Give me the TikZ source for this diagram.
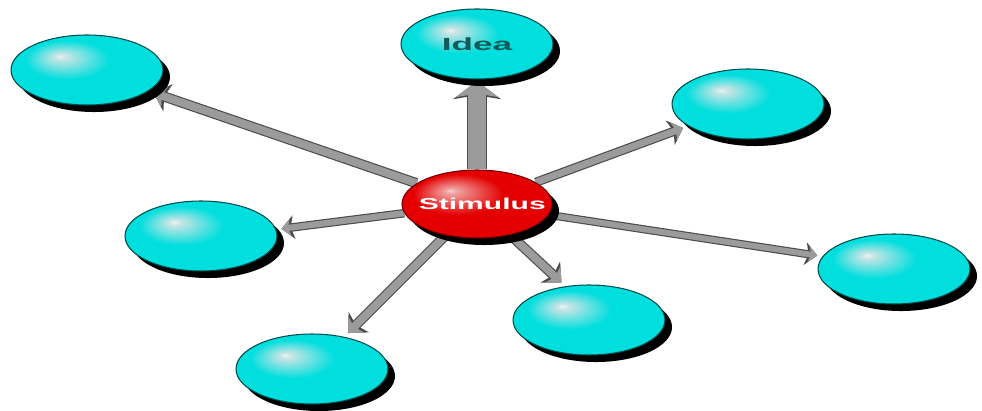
\documentclass[tikz,border=0pt]{standalone}
\usepackage{fontspec}
\setmainfont{Liberation Sans}
\usepackage{graphicx}
\usetikzlibrary{calc}
\usetikzlibrary{shapes}
\usetikzlibrary{shadows}
\usetikzlibrary{arrows.meta}
\definecolor{cellBody}{RGB}{0, 222, 222}
\definecolor{cellGlow}{RGB}{200, 228, 228}
\definecolor{hubBody}{RGB}{228, 0, 0}
\definecolor{hubGlow}{RGB}{240, 160, 160}
\definecolor{hubDark}{RGB}{170, 0, 0}
\pgfdeclareradialshading{cellglow}{\pgfpoint{-9bp}{10bp}}{%
  color(0bp)=(white!60!cellGlow); color(2bp)=(cellGlow);
  color(14bp)=(cellBody); color(50bp)=(cellBody)}
\pgfdeclareradialshading{hubglow}{\pgfpoint{-9bp}{10bp}}{%
  color(0bp)=(white!50!hubGlow); color(2bp)=(hubGlow);
  color(15bp)=(hubBody); color(38bp)=(hubBody); color(50bp)=(hubDark)}
\pgfdeclarelayer{background}
\pgfsetlayers{background,main}

\begin{document}
\begin{tikzpicture}[x=0.02cm, y=-0.02cm]
    \definecolor{cellline}{RGB}{0, 75, 75}
    \definecolor{hubline}{RGB}{110, 0, 0}
    \definecolor{spokeedge}{RGB}{75, 75, 75}
    \definecolor{spokefill}{RGB}{155, 155, 155}
    \definecolor{ideatext}{RGB}{20, 90, 90}

    \tikzstyle{cell}=[ellipse, draw=cellline, line width=0.6pt, shade, shading=cellglow, minimum width=3.04cm, minimum height=1.4cm, inner sep=0pt, drop shadow={shadow xshift=4pt, shadow yshift=-4pt, fill=black, opacity=1}]
    \tikzstyle{hub}=[cell, draw=hubline, shading=hubglow, minimum width=3cm, minimum height=1.36cm]
    \tikzset{spoke/.style={line width=#1, draw=spokeedge, -{Stealth[length=0pt 1.5, width=0pt 2.8, inset=0pt 0.4]}, shorten >=3pt, postaction={draw=spokefill, line width=#1-1.3pt}}}

    \useasboundingbox (0,0) rectangle (982,411);

    % centres of the ellipses
    \coordinate (stim_c) at (477,204);
    \coordinate (idea_c) at (477,44);
    \coordinate (tl_c) at (87,70);
    \coordinate (ur_c) at (748,104);
    \coordinate (lm_c) at (201,236);
    \coordinate (rl_c) at (894,269);
    \coordinate (bc_c) at (589,320);
    \coordinate (bl_c) at (312,369);

    \node[cell] (idea) at (idea_c) {\makebox[0pt]{\color{ideatext}\scalebox{2}[1]{\fontsize{10}{11}\selectfont\bfseries Idea}}};
    \node[cell] (tl) at (tl_c) {};
    \node[cell] (ur) at (ur_c) {};
    \node[cell] (lm) at (lm_c) {};
    \node[cell] (rl) at (rl_c) {};
    \node[cell] (bc) at (bc_c) {};
    \node[cell] (bl) at (bl_c) {};
    \node[hub] (stim) at (stim_c) {\makebox[0pt]{\hspace{6pt}\raisebox{-1.5pt}{\color{white}\scalebox{1.9}[1]{\fontsize{9}{10}\selectfont\bfseries Stimulus}}}};

    \begin{pgfonlayer}{background}
        \draw[spoke=11.3pt, -{Stealth[length=0pt 0.9, width=0pt 2.4, inset=0pt 0.2]}, shorten >=1pt] (stim) -- (idea);
        \draw[spoke=5.8pt] (stim) -- (tl);
        \draw[spoke=5.2pt] (stim) -- (ur);
        \draw[spoke=4.8pt] (stim) -- (lm.5);
        \draw[spoke=4.6pt] (stim) -- (rl.170);
        \draw[spoke=5.8pt] (stim) -- (bc.125);
        \draw[spoke=5.8pt] (stim) -- (bl.45);
    \end{pgfonlayer}
\end{tikzpicture}
\end{document}
